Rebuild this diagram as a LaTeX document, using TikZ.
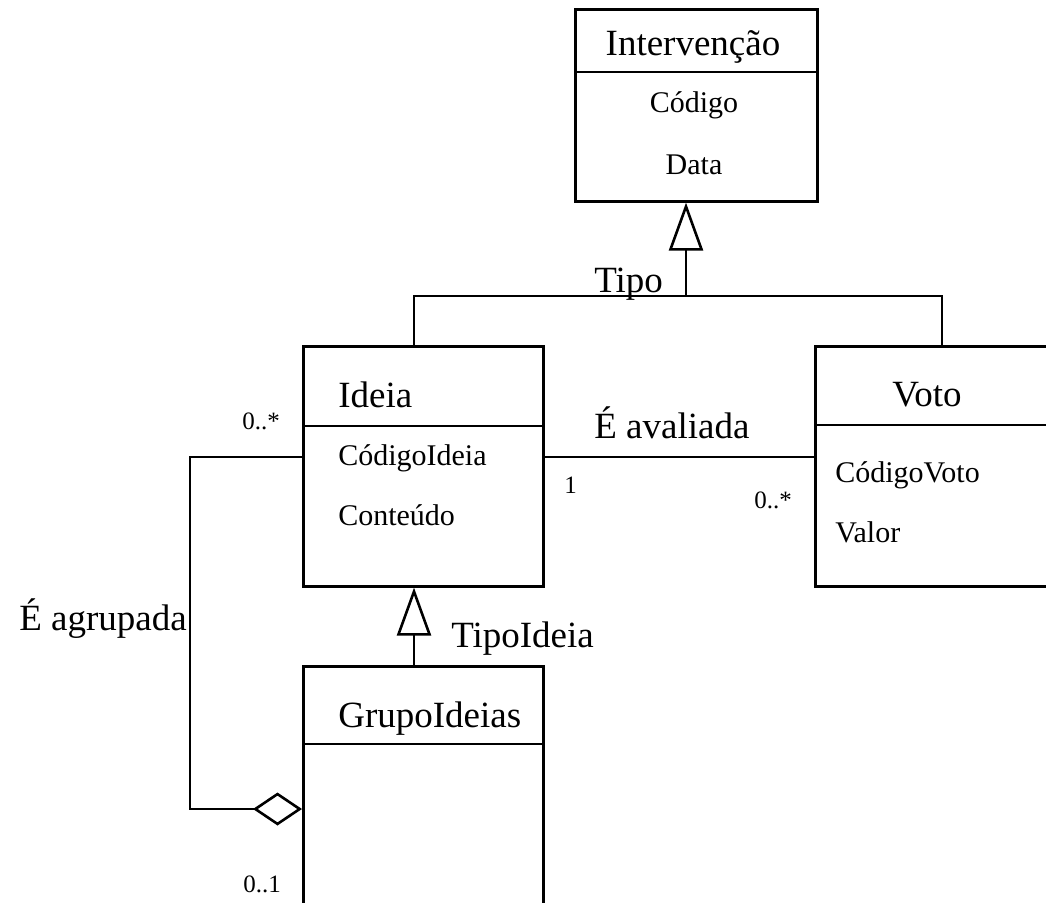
\documentclass[tikz,border=0pt]{standalone}
\usepackage{fontspec}
\setmainfont{Liberation Serif}
\usetikzlibrary{arrows.meta}

\begin{document}
\begin{tikzpicture}[x=1pt,y=-1pt,
  line width=2.6pt,
  classbox/.style={draw, rectangle, anchor=north west, inner sep=0pt},
  title/.style={font=\fontsize{37}{40}\selectfont, inner sep=0pt},
  attr/.style={font=\fontsize{30}{34}\selectfont, inner sep=0pt},
  mult/.style={font=\fontsize{25}{28}\selectfont, inner sep=0pt},
  gen/.style={-{Triangle[open, length=48pt, width=34pt, fill=white]}},
  agg/.style={{Diamond[open, length=49pt, width=33pt, fill=white]}-}]
\clip (0,0) rectangle (1046,902);
\fill[white] (0,0) rectangle (1046,902);

% class boxes
\node[classbox, minimum width=242pt, minimum height=192pt] (interv) at (574,8) {};
\node[classbox, minimum width=240pt, minimum height=240pt] (ideia) at (302,345) {};
\node[classbox, minimum width=250pt, minimum height=240pt] (voto) at (814,345) {};
\node[classbox, minimum width=240pt, minimum height=260pt] (grupo) at (302,665) {};

% compartment separators
\draw (interv.west |- 0,72) -- (interv.east |- 0,72);
\draw (ideia.west |- 0,426) -- (ideia.east |- 0,426);
\draw (voto.west |- 0,425) -- (voto.east |- 0,425);
\draw (grupo.west |- 0,744) -- (grupo.east |- 0,744);

% class names and attributes
\node[title, anchor=base] (tInterv) at (693,55) {Intervenção};
\node[attr, anchor=base] (aCod) at (694,112) {Código};
\node[attr, anchor=base] (aData) at (694,174) {Data};

\node[title, anchor=base west] (tIdeia) at (337,407) {Ideia};
\node[attr, anchor=base west] (aCodIdeia) at (337,465) {CódigoIdeia};
\node[attr, anchor=base west] (aConteudo) at (337,525) {Conteúdo};

\node[title, anchor=base] (tVoto) at (927,406) {Voto};
\node[attr, anchor=base west] (aCodVoto) at (834,482) {CódigoVoto};
\node[attr, anchor=base west] (aValor) at (834,542) {Valor};

\node[title, anchor=base west] (tGrupo) at (337,727) {GrupoIdeias};

% generalisation Tipo
\coordinate (barL) at (414,296);
\coordinate (barM) at (686,296);
\coordinate (barR) at (942,296);
\draw (ideia.north -| barL) |- (barR) -- (voto.north -| barR);
\draw[gen] (barM) -- (barM |- interv.south);
\node[title, anchor=base west] (lTipo) at (593,292) {Tipo};

% generalisation TipoIdeia
\draw[gen] (grupo.north -| barL) -- (ideia.south -| barL);
\node[title, anchor=base west] (lTipoIdeia) at (450,647) {TipoIdeia};

% association É avaliada
\coordinate (assocY) at (0,457);
\draw (ideia.east |- assocY) -- (voto.west |- assocY);
\node[title, anchor=base west] (lAval) at (593,438) {É avaliada};
\node[mult, anchor=base west] (m1) at (563,493) {1};
\node[mult, anchor=base west] (m2) at (753,508) {0..*};

% aggregation É agrupada
\coordinate (aggCorner) at (190,457);
\coordinate (aggY) at (0,809);
\draw[agg] (grupo.west |- aggY) -| (aggCorner) -- (ideia.west |- aggCorner);
\node[title, anchor=base west] (lAgr) at (18,630) {É agrupada};
\node[mult, anchor=base west] (m3) at (241,429) {0..*};
\node[mult, anchor=base west] (m4) at (242,892) {0..1};
\end{tikzpicture}
\end{document}
